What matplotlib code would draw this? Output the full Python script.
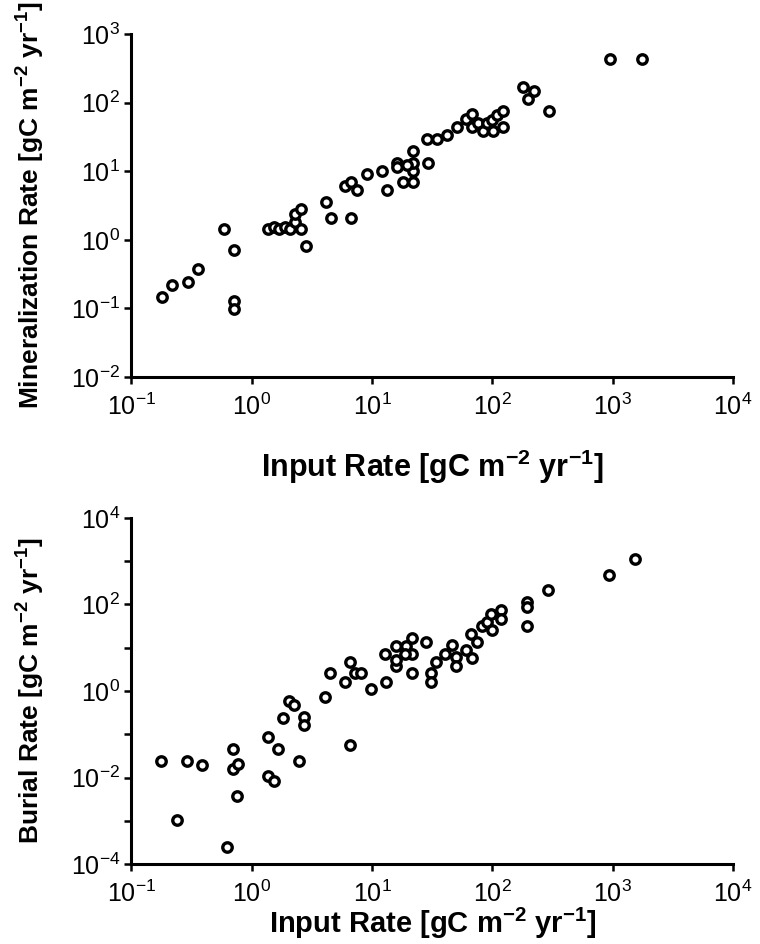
"""
Input rate vs. mineralization and burial rates (log-log scatter, two panels).
"""

import math

import matplotlib

matplotlib.use("Agg")
import matplotlib.pyplot as plt
from matplotlib.ticker import FixedLocator, FuncFormatter, NullFormatter, NullLocator

plt.rcParams["font.family"] = ["Liberation Sans", "DejaVu Sans"]
plt.rcParams["mathtext.default"] = "regular"

# Top panel: input rate vs mineralization rate [gC m-2 yr-1]
min_input = [
    0.178, 0.218, 0.293, 0.359, 0.583, 0.711, 0.711, 0.711,
    1.37, 1.54, 1.69, 1.89, 2.08, 2.29, 2.29, 2.55, 2.55, 2.81,
    4.14, 4.55, 5.99, 6.71, 7.53, 6.71, 9.08, 12.2, 13.2,
    16.0, 16.0, 17.9, 21.8, 21.8, 21.8, 19.4, 21.8, 29.0,
    28.4, 34.8, 42.2, 51.1, 60.4, 67.3, 67.3, 76.4, 83.0,
    89.7, 98.7, 101, 110, 123, 123, 179, 222, 199, 297, 951, 1742,
]
min_rate = [
    0.148, 0.217, 0.245, 0.372, 1.42, 0.718, 0.128, 0.097,
    1.42, 1.55, 1.42, 1.55, 1.42, 1.84, 2.38, 2.79, 1.42, 0.82,
    3.59, 2.08, 6.15, 6.97, 5.32, 2.08, 9.10, 10.2, 5.27,
    13.3, 11.6, 6.89, 6.89, 10.2, 13.3, 12.3, 19.9, 13.3,
    29.2, 29.2, 33.7, 44.6, 57.1, 67.5, 44.6, 50.9, 38.5,
    49.9, 55.7, 38.5, 65.9, 76.2, 44.6, 167, 149, 113, 76.2, 428, 428,
]

# Bottom panel: input rate vs burial rate [gC m-2 yr-1]
bur_input = [
    0.176, 0.291, 0.388, 0.240, 0.701, 0.701, 0.773, 0.757, 0.618,
    1.37, 1.66, 1.36, 1.53, 2.48, 1.83, 2.04, 2.24, 2.72, 2.72,
    4.06, 6.55, 4.47, 6.55, 5.96, 7.21, 8.04, 9.73, 13.1, 12.8,
    15.8, 15.8, 15.8, 19.1, 21.3, 21.3, 18.8, 21.3, 28.1, 30.9,
    30.9, 34.0, 40.4, 45.9, 49.9, 49.9, 60.4, 67.3, 66.1, 74.1,
    81.5, 89.7, 97.3, 98.6, 119, 119, 193, 193, 193, 292, 931, 1531,
]
bur_rate = [
    0.0243, 0.0243, 0.0193, 0.00104, 0.0453, 0.0159, 0.0201, 0.00372, 0.000243,
    0.0843, 0.046, 0.0108, 0.00826, 0.0243, 0.244, 0.581, 0.469, 0.252, 0.162,
    0.708, 0.056, 2.54, 4.70, 1.62, 2.54, 2.54, 1.10, 1.62, 7.35,
    10.8, 3.80, 5.35, 10.8, 17.2, 7.35, 7.35, 2.54, 13.6, 2.54,
    1.62, 4.70, 7.35, 11.4, 6.13, 3.80, 8.75, 5.94, 21.3, 13.6,
    31.4, 39.4, 61.7, 25.3, 76.3, 47.2, 114, 87.6, 31.8, 213, 491, 1148,
]

x_label = "Input Rate [gC m$^{-2}$ yr$^{-1}$]"
top_ylabel = "Mineralization Rate [gC m$^{-2}$ yr$^{-1}$]"
bottom_ylabel = "Burial Rate [gC m$^{-2}$ yr$^{-1}$]"


def power_label(value, pos):
    exp = int(round(math.log10(value)))
    return f"10$^{{{exp}}}$"


def style_axes(ax, y_major, y_minor):
    ax.set_xscale("log")
    ax.set_yscale("log")
    ax.set_xlim(1e-1, 1e4)
    ax.set_ylim(y_major[0], y_major[-1])
    for side in ("top", "right"):
        ax.spines[side].set_visible(False)
    for side in ("left", "bottom"):
        ax.spines[side].set_linewidth(2.2)

    ax.xaxis.set_major_locator(FixedLocator([1e-1, 1e0, 1e1, 1e2, 1e3, 1e4]))
    ax.xaxis.set_minor_locator(NullLocator())
    ax.yaxis.set_major_locator(FixedLocator(y_major))
    ax.yaxis.set_minor_locator(FixedLocator(y_minor) if y_minor else NullLocator())
    ax.xaxis.set_major_formatter(FuncFormatter(power_label))
    ax.yaxis.set_major_formatter(FuncFormatter(power_label))
    ax.xaxis.set_minor_formatter(NullFormatter())
    ax.yaxis.set_minor_formatter(NullFormatter())

    ax.tick_params(which="both", direction="out", length=5, width=1.8, labelsize=18)
    ax.tick_params(axis="x", pad=7)
    ax.tick_params(axis="y", pad=3)


def scatter(ax, xs, ys):
    ax.plot(
        xs, ys, linestyle="none", marker="o", markersize=6.8,
        markerfacecolor="white", markeredgecolor="black", markeredgewidth=2.4,
        clip_on=False, zorder=3,
    )


def main():
    fig = plt.figure(figsize=(7.6, 9.44), dpi=100)

    ax1 = fig.add_axes([0.173, 0.6006, 0.7915, 0.3634])
    style_axes(ax1, [1e-2, 1e-1, 1e0, 1e1, 1e2, 1e3], None)
    scatter(ax1, min_input, min_rate)
    ax1.set_xlabel(x_label, fontsize=22, fontweight="bold", labelpad=20)
    ax1.set_ylabel(top_ylabel, fontsize=19, fontweight="bold")
    ax1.yaxis.set_label_coords(-0.14, 0.5)

    ax2 = fig.add_axes([0.173, 0.0847, 0.7915, 0.3666])
    style_axes(ax2, [1e-4, 1e-2, 1e0, 1e2, 1e4], [1e-3, 1e-1, 1e1, 1e3])
    scatter(ax2, bur_input, bur_rate)
    ax2.set_xlabel(x_label, fontsize=21, fontweight="bold", labelpad=-1)
    ax2.set_ylabel(bottom_ylabel, fontsize=19, fontweight="bold")
    ax2.yaxis.set_label_coords(-0.14, 0.5)

    fig.savefig("out.png", dpi=100)


if __name__ == "__main__":
    main()
